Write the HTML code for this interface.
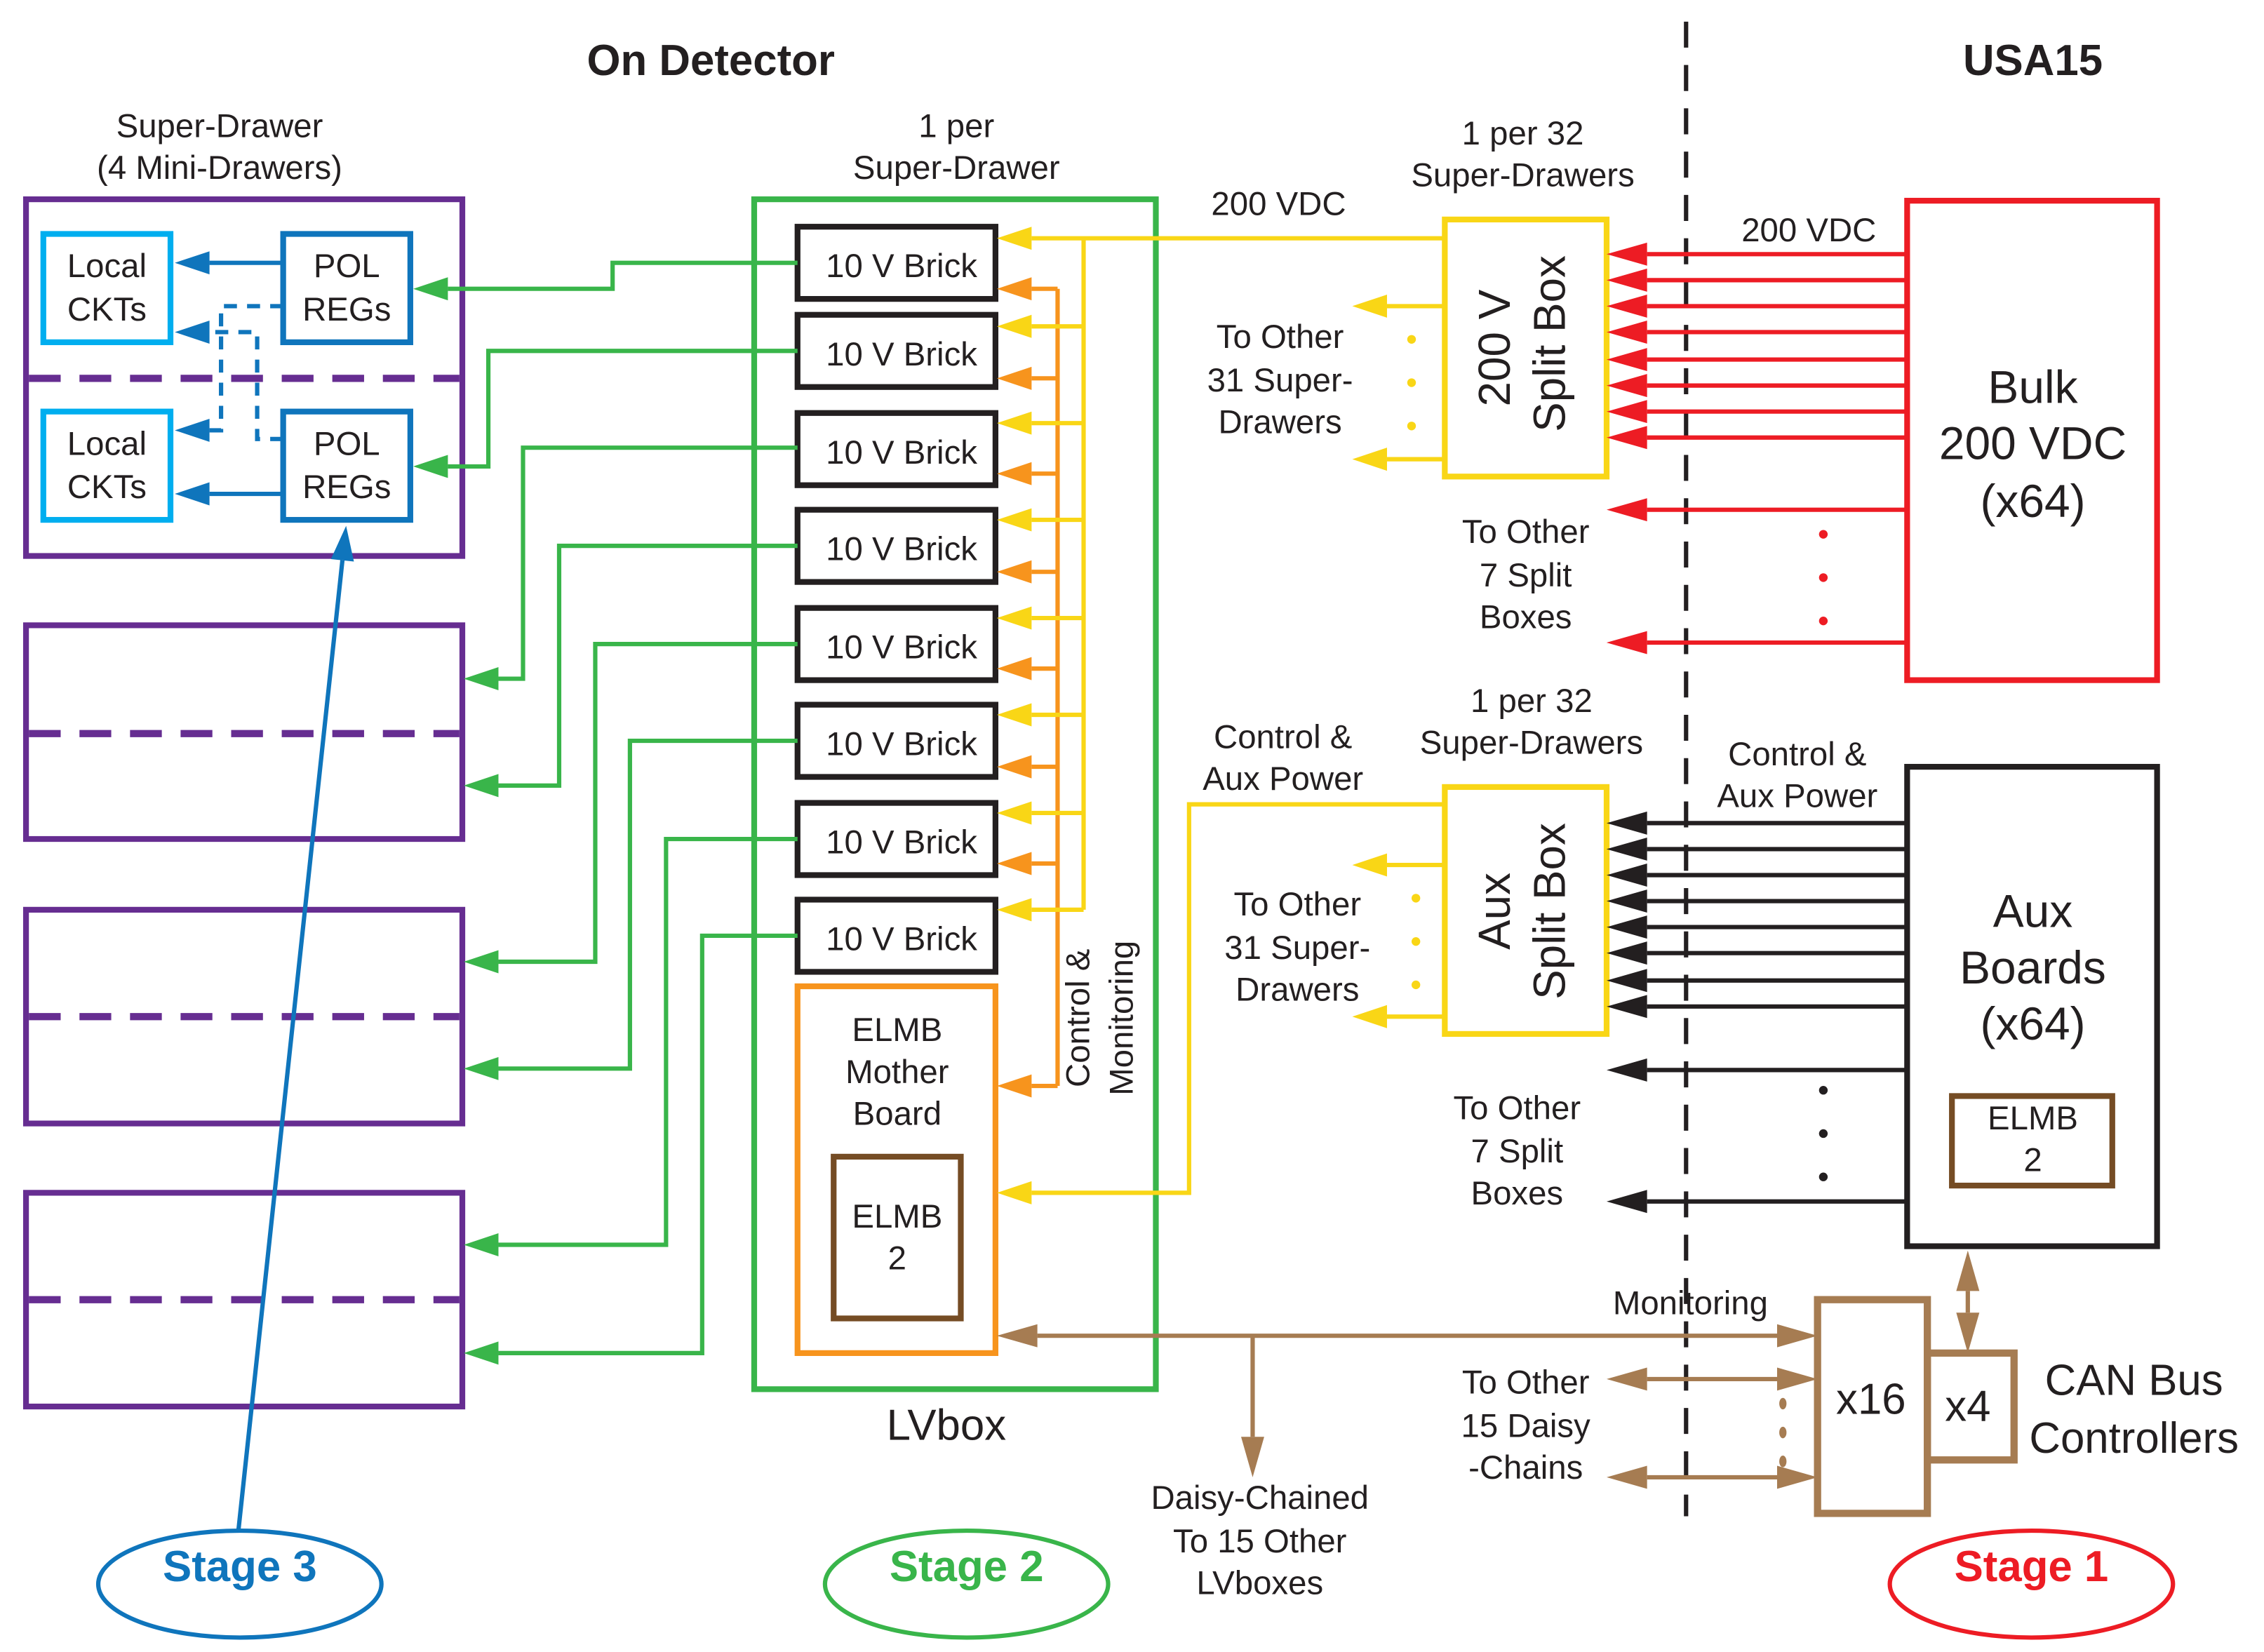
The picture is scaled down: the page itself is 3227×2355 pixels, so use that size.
<!DOCTYPE html>
<html><head><meta charset="utf-8"><style>
html,body{margin:0;padding:0;background:#fff;}
svg{display:block;}
text{font-family:"Liberation Sans",sans-serif;fill:#231f20;}
</style></head><body>
<svg width="3227" height="2355" viewBox="0 0 1567 1144" preserveAspectRatio="none" xmlns="http://www.w3.org/2000/svg">
<defs>
<marker id="ag" markerUnits="userSpaceOnUse" markerWidth="26" markerHeight="20" refX="0" refY="10" orient="auto-start-reverse" viewBox="-2 0 26 20"><path d="M0,10 L24,2 L24,18 Z" fill="#39b54a" transform="rotate(180 12 10)"/></marker>
<marker id="ay" markerUnits="userSpaceOnUse" markerWidth="26" markerHeight="20" refX="0" refY="10" orient="auto-start-reverse" viewBox="-2 0 26 20"><path d="M0,10 L24,2 L24,18 Z" fill="#f9d616" transform="rotate(180 12 10)"/></marker>
<marker id="ao" markerUnits="userSpaceOnUse" markerWidth="26" markerHeight="20" refX="0" refY="10" orient="auto-start-reverse" viewBox="-2 0 26 20"><path d="M0,10 L24,2 L24,18 Z" fill="#f7941d" transform="rotate(180 12 10)"/></marker>
<marker id="ar" markerUnits="userSpaceOnUse" markerWidth="30" markerHeight="20" refX="0" refY="10" orient="auto-start-reverse" viewBox="-2 0 30 20"><path d="M0,10 L28,2 L28,18 Z" fill="#ed1c24" transform="rotate(180 14 10)"/></marker>
<marker id="ak" markerUnits="userSpaceOnUse" markerWidth="30" markerHeight="20" refX="0" refY="10" orient="auto-start-reverse" viewBox="-2 0 30 20"><path d="M0,10 L28,2 L28,18 Z" fill="#231f20" transform="rotate(180 14 10)"/></marker>
<marker id="ab" markerUnits="userSpaceOnUse" markerWidth="30" markerHeight="20" refX="0" refY="10" orient="auto-start-reverse" viewBox="-2 0 30 20"><path d="M0,10 L28,2 L28,18 Z" fill="#a67c52" transform="rotate(180 14 10)"/></marker>
<marker id="au" markerUnits="userSpaceOnUse" markerWidth="26" markerHeight="20" refX="0" refY="10" orient="auto-start-reverse" viewBox="-2 0 26 20"><path d="M0,10 L24,2 L24,18 Z" fill="#0f75bc" transform="rotate(180 12 10)"/></marker>
</defs>

<text x="492" y="52" font-size="30" font-weight="bold" text-anchor="middle">On Detector</text>
<text x="1407" y="52" font-size="30" font-weight="bold" text-anchor="middle">USA15</text>
<line x1="1167" y1="15" x2="1167" y2="1050" stroke="#231f20" stroke-width="3" stroke-dasharray="18,12"/>

<g font-size="23" text-anchor="middle">
<text x="152" y="95">Super-Drawer</text><text x="152" y="124">(4 Mini-Drawers)</text>
<text x="662" y="95">1 per</text><text x="662" y="124">Super-Drawer</text>
<text x="655" y="997" font-size="30">LVbox</text>
</g>

<g fill="none" stroke="#662d91" stroke-width="4">
<rect x="18" y="138" width="302" height="247"/>
<rect x="18" y="433" width="302" height="148"/>
<rect x="18" y="630" width="302" height="148"/>
<rect x="18" y="826" width="302" height="148"/>
<g stroke-dasharray="22,13" stroke-width="5">
<line x1="20" y1="262" x2="318" y2="262"/>
<line x1="20" y1="508" x2="318" y2="508"/>
<line x1="20" y1="704" x2="318" y2="704"/>
<line x1="20" y1="900" x2="318" y2="900"/>
</g></g>

<g fill="none" stroke-width="4">
<rect x="30" y="162" width="88" height="75" stroke="#00aeef"/>
<rect x="30" y="285" width="88" height="75" stroke="#00aeef"/>
<rect x="196" y="162" width="88" height="75" stroke="#0f75bc"/>
<rect x="196" y="285" width="88" height="75" stroke="#0f75bc"/>
</g>
<g font-size="23" text-anchor="middle">
<text x="74" y="192">Local</text><text x="74" y="222">CKTs</text>
<text x="74" y="315">Local</text><text x="74" y="345">CKTs</text>
<text x="240" y="192">POL</text><text x="240" y="222">REGs</text>
<text x="240" y="315">POL</text><text x="240" y="345">REGs</text>
</g>
<g stroke="#0f75bc" stroke-width="3" fill="none">
<line x1="196" y1="182" x2="145" y2="182" marker-end="url(#au)"/>
<line x1="196" y1="342" x2="145" y2="342" marker-end="url(#au)"/>
<polyline points="196,212 153,212 153,298 145,298" stroke-dasharray="9,7" marker-end="url(#au)"/>
<polyline points="196,304 178,304 178,230 145,230" stroke-dasharray="9,7" marker-end="url(#au)"/>
<line x1="165" y1="1060" x2="237" y2="388" marker-end="url(#au)"/>
</g>

<rect x="522" y="138" width="278" height="824" fill="none" stroke="#39b54a" stroke-width="4"/>
<g fill="none" stroke="#231f20" stroke-width="4">
<rect x="552" y="157" width="137" height="50"/><rect x="552" y="218" width="137" height="50"/>
<rect x="552" y="286" width="137" height="50"/><rect x="552" y="353" width="137" height="50"/>
<rect x="552" y="421" width="137" height="50"/><rect x="552" y="488" width="137" height="50"/>
<rect x="552" y="556" width="137" height="50"/><rect x="552" y="623" width="137" height="50"/>
</g>
<g font-size="23" text-anchor="middle">
<text x="624" y="192">10 V Brick</text><text x="624" y="253">10 V Brick</text>
<text x="624" y="321">10 V Brick</text><text x="624" y="388">10 V Brick</text>
<text x="624" y="456">10 V Brick</text><text x="624" y="523">10 V Brick</text>
<text x="624" y="591">10 V Brick</text><text x="624" y="658">10 V Brick</text>
</g>
<rect x="552" y="683" width="137" height="254" fill="none" stroke="#f7941d" stroke-width="4"/>
<rect x="577" y="801" width="88" height="112" fill="none" stroke="#754c24" stroke-width="4"/>
<g font-size="23" text-anchor="middle">
<text x="621" y="721">ELMB</text><text x="621" y="750">Mother</text><text x="621" y="779">Board</text>
<text x="621" y="850">ELMB</text><text x="621" y="879">2</text>
</g>

<g stroke="#39b54a" stroke-width="3" fill="none">
<polyline points="552,182 424,182 424,200 310,200" marker-end="url(#ag)"/>
<polyline points="552,243 338,243 338,323 310,323" marker-end="url(#ag)"/>
<polyline points="552,310 362,310 362,470 345,470" marker-end="url(#ag)"/>
<polyline points="552,378 387,378 387,544 345,544" marker-end="url(#ag)"/>
<polyline points="552,446 412,446 412,666 345,666" marker-end="url(#ag)"/>
<polyline points="552,513 436,513 436,740 345,740" marker-end="url(#ag)"/>
<polyline points="552,581 461,581 461,862 345,862" marker-end="url(#ag)"/>
<polyline points="552,648 486,648 486,937 345,937" marker-end="url(#ag)"/>
</g>

<g stroke="#f7941d" stroke-width="3" fill="none">
<line x1="732" y1="200" x2="732" y2="752"/>
<line x1="732" y1="200" x2="714" y2="200" marker-end="url(#ao)"/>
<line x1="732" y1="262" x2="714" y2="262" marker-end="url(#ao)"/>
<line x1="732" y1="328" x2="714" y2="328" marker-end="url(#ao)"/>
<line x1="732" y1="396" x2="714" y2="396" marker-end="url(#ao)"/>
<line x1="732" y1="463" x2="714" y2="463" marker-end="url(#ao)"/>
<line x1="732" y1="531" x2="714" y2="531" marker-end="url(#ao)"/>
<line x1="732" y1="598" x2="714" y2="598" marker-end="url(#ao)"/>
<line x1="732" y1="752" x2="714" y2="752" marker-end="url(#ao)"/>
</g>
<g stroke="#f9d616" stroke-width="3" fill="none">
<line x1="750" y1="165" x2="750" y2="630"/>
<line x1="1000" y1="165" x2="714" y2="165" marker-end="url(#ay)"/>
<line x1="750" y1="226" x2="714" y2="226" marker-end="url(#ay)"/>
<line x1="750" y1="293" x2="714" y2="293" marker-end="url(#ay)"/>
<line x1="750" y1="360" x2="714" y2="360" marker-end="url(#ay)"/>
<line x1="750" y1="428" x2="714" y2="428" marker-end="url(#ay)"/>
<line x1="750" y1="495" x2="714" y2="495" marker-end="url(#ay)"/>
<line x1="750" y1="563" x2="714" y2="563" marker-end="url(#ay)"/>
<line x1="750" y1="630" x2="714" y2="630" marker-end="url(#ay)"/>
<polyline points="1000,557 823,557 823,826 714,826" marker-end="url(#ay)"/>
<line x1="1000" y1="212" x2="960" y2="212" marker-end="url(#ay)"/>
<line x1="1000" y1="318" x2="960" y2="318" marker-end="url(#ay)"/>
<line x1="1000" y1="599" x2="960" y2="599" marker-end="url(#ay)"/>
<line x1="1000" y1="704" x2="960" y2="704" marker-end="url(#ay)"/>
</g>
<text transform="translate(754,705) rotate(-90)" font-size="23" text-anchor="middle">Control &amp;</text>
<text transform="translate(784,705) rotate(-90)" font-size="23" text-anchor="middle">Monitoring</text>

<rect x="1000" y="152" width="112" height="178" fill="none" stroke="#f9d616" stroke-width="4"/>
<rect x="1000" y="545" width="112" height="171" fill="none" stroke="#f9d616" stroke-width="4"/>
<text transform="translate(1045,241) rotate(-90)" font-size="31" text-anchor="middle">200 V</text>
<text transform="translate(1083,238) rotate(-90)" font-size="31" text-anchor="middle">Split Box</text>
<text transform="translate(1045,631) rotate(-90)" font-size="31" text-anchor="middle">Aux</text>
<text transform="translate(1083,631) rotate(-90)" font-size="31" text-anchor="middle">Split Box</text>
<g fill="#f9d616"><circle cx="977" cy="235" r="3"/><circle cx="977" cy="265" r="3"/><circle cx="977" cy="295" r="3"/>
<circle cx="980" cy="622" r="3"/><circle cx="980" cy="652" r="3"/><circle cx="980" cy="682" r="3"/></g>

<g font-size="23" text-anchor="middle">
<text x="1054" y="100">1 per 32</text><text x="1054" y="129">Super-Drawers</text>
<text x="885" y="149">200 VDC</text>
<text x="886" y="241">To Other</text><text x="886" y="271">31 Super-</text><text x="886" y="300">Drawers</text>
<text x="1252" y="167">200 VDC</text>
<text x="1056" y="376">To Other</text><text x="1056" y="406">7 Split</text><text x="1056" y="435">Boxes</text>
<text x="1060" y="493">1 per 32</text><text x="1060" y="522">Super-Drawers</text>
<text x="888" y="518">Control &amp;</text><text x="888" y="547">Aux Power</text>
<text x="898" y="634">To Other</text><text x="898" y="664">31 Super-</text><text x="898" y="693">Drawers</text>
<text x="1244" y="530">Control &amp;</text><text x="1244" y="559">Aux Power</text>
<text x="1050" y="775">To Other</text><text x="1050" y="805">7 Split</text><text x="1050" y="834">Boxes</text>
<text x="1170" y="910">Monitoring</text>
<text x="872" y="1045">Daisy-Chained</text><text x="872" y="1075">To 15 Other</text><text x="872" y="1104">LVboxes</text>
<text x="1056" y="965">To Other</text><text x="1056" y="995">15 Daisy</text><text x="1056" y="1024">-Chains</text>
</g>

<rect x="1320" y="139" width="173" height="332" fill="none" stroke="#ed1c24" stroke-width="4"/>
<g font-size="32" text-anchor="middle">
<text x="1407" y="279">Bulk</text><text x="1407" y="318">200 VDC</text><text x="1407" y="358">(x64)</text>
</g>
<g stroke="#ed1c24" stroke-width="3">
<line x1="1320" y1="176" x2="1140" y2="176" marker-end="url(#ar)"/>
<line x1="1320" y1="194" x2="1140" y2="194" marker-end="url(#ar)"/>
<line x1="1320" y1="212" x2="1140" y2="212" marker-end="url(#ar)"/>
<line x1="1320" y1="230" x2="1140" y2="230" marker-end="url(#ar)"/>
<line x1="1320" y1="249" x2="1140" y2="249" marker-end="url(#ar)"/>
<line x1="1320" y1="267" x2="1140" y2="267" marker-end="url(#ar)"/>
<line x1="1320" y1="285" x2="1140" y2="285" marker-end="url(#ar)"/>
<line x1="1320" y1="303" x2="1140" y2="303" marker-end="url(#ar)"/>
<line x1="1320" y1="353" x2="1140" y2="353" marker-end="url(#ar)"/>
<line x1="1320" y1="445" x2="1140" y2="445" marker-end="url(#ar)"/>
</g>
<g fill="#ed1c24"><circle cx="1262" cy="370" r="3"/><circle cx="1262" cy="400" r="3"/><circle cx="1262" cy="430" r="3"/></g>

<rect x="1320" y="531" width="173" height="332" fill="none" stroke="#231f20" stroke-width="4"/>
<g font-size="32" text-anchor="middle">
<text x="1407" y="642">Aux</text><text x="1407" y="681">Boards</text><text x="1407" y="720">(x64)</text>
</g>
<rect x="1351" y="759" width="111" height="62" fill="none" stroke="#754c24" stroke-width="4"/>
<g font-size="23" text-anchor="middle"><text x="1407" y="782">ELMB</text><text x="1407" y="811">2</text></g>
<g stroke="#231f20" stroke-width="3">
<line x1="1320" y1="570" x2="1140" y2="570" marker-end="url(#ak)"/>
<line x1="1320" y1="588" x2="1140" y2="588" marker-end="url(#ak)"/>
<line x1="1320" y1="606" x2="1140" y2="606" marker-end="url(#ak)"/>
<line x1="1320" y1="624" x2="1140" y2="624" marker-end="url(#ak)"/>
<line x1="1320" y1="642" x2="1140" y2="642" marker-end="url(#ak)"/>
<line x1="1320" y1="660" x2="1140" y2="660" marker-end="url(#ak)"/>
<line x1="1320" y1="679" x2="1140" y2="679" marker-end="url(#ak)"/>
<line x1="1320" y1="697" x2="1140" y2="697" marker-end="url(#ak)"/>
<line x1="1320" y1="741" x2="1140" y2="741" marker-end="url(#ak)"/>
<line x1="1320" y1="832" x2="1140" y2="832" marker-end="url(#ak)"/>
</g>
<g fill="#231f20"><circle cx="1262" cy="755" r="3"/><circle cx="1262" cy="785" r="3"/><circle cx="1262" cy="815" r="3"/></g>

<rect x="1258" y="900" width="76" height="148" fill="none" stroke="#a67c52" stroke-width="5"/>
<rect x="1334" y="937" width="60" height="74" fill="none" stroke="#a67c52" stroke-width="5"/>
<g font-size="30" text-anchor="middle">
<text x="1295" y="979">x16</text><text x="1362" y="984">x4</text>
<text x="1477" y="966">CAN Bus</text><text x="1477" y="1006">Controllers</text>
</g>
<g stroke="#a67c52" stroke-width="3" fill="none">
<line x1="718" y1="925" x2="1230" y2="925" marker-start="url(#ab)" marker-end="url(#ab)"/>
<line x1="867" y1="925" x2="867" y2="995" marker-end="url(#ab)"/>
<line x1="1362" y1="894" x2="1362" y2="909" marker-start="url(#ab)" marker-end="url(#ab)"/>
<line x1="1140" y1="955" x2="1230" y2="955" marker-start="url(#ab)" marker-end="url(#ab)"/>
<line x1="1140" y1="1023" x2="1230" y2="1023" marker-start="url(#ab)" marker-end="url(#ab)"/>
</g>
<g fill="#a67c52"><ellipse cx="1234" cy="972" rx="2.5" ry="4"/><ellipse cx="1234" cy="992" rx="2.5" ry="4"/><ellipse cx="1234" cy="1012" rx="2.5" ry="4"/></g>

<ellipse cx="166" cy="1097" rx="98" ry="37" fill="none" stroke="#0f75bc" stroke-width="3"/>
<ellipse cx="669" cy="1097" rx="98" ry="37" fill="none" stroke="#39b54a" stroke-width="3"/>
<ellipse cx="1406" cy="1097" rx="98" ry="37" fill="none" stroke="#ed1c24" stroke-width="3"/>
<g font-size="30" font-weight="bold" text-anchor="middle">
<text x="166" y="1095" style="fill:#0f75bc">Stage 3</text>
<text x="669" y="1095" style="fill:#39b54a">Stage 2</text>
<text x="1406" y="1095" style="fill:#ed1c24">Stage 1</text>
</g>
</svg>
</body></html>
